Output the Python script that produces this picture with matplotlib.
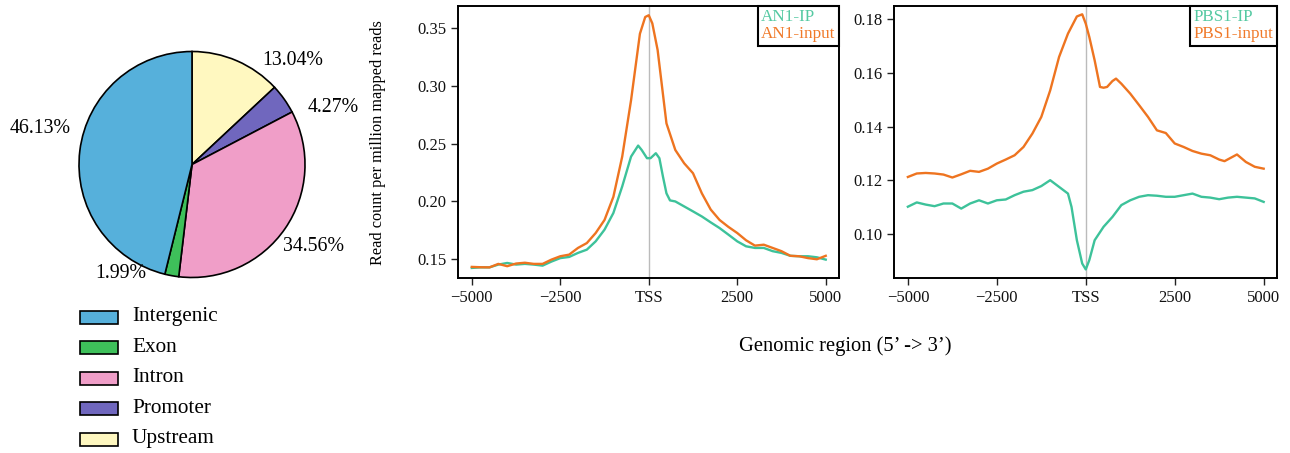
import matplotlib
matplotlib.use("Agg")
import matplotlib.pyplot as plt
from matplotlib.patches import Rectangle
from matplotlib.lines import Line2D
import numpy as np

plt.rcParams['font.family'] = ['Liberation Serif', 'DejaVu Serif']

# ---------------- data ----------------
pie_labels = ["Upstream", "Promoter", "Intron", "Exon", "Intergenic"]
pie_values = [13.04, 4.27, 34.56, 1.99, 46.13]
pie_colors = ["#FFF8C0", "#7067BE", "#F09EC8", "#3EC05A", "#56B0DB"]
legend_order = ["Intergenic", "Exon", "Intron", "Promoter", "Upstream"]

an1_input_x = [-5000, -4750, -4500, -4250, -4000, -3750, -3500, -3250, -3000, -2750,
               -2500, -2250, -2000, -1750, -1500, -1250, -1000, -750, -500, -250,
               -100, 0, 100, 250, 500, 750, 1000, 1250, 1500, 1750, 2000, 2250,
               2500, 2750, 3000, 3250, 3500, 3750, 4000, 4250, 4500, 4750, 5000]
an1_input_y = [0.1434, 0.1431, 0.1430, 0.1460, 0.1440, 0.1463, 0.1470, 0.1460, 0.1460, 0.1497,
               0.1526, 0.1540, 0.1598, 0.1640, 0.1727, 0.1840, 0.2040, 0.2388, 0.2876, 0.3450,
               0.3595, 0.3610, 0.3540, 0.3310, 0.2675, 0.2445, 0.2330, 0.2244, 0.2070, 0.1930,
               0.1840, 0.1780, 0.1727, 0.1664, 0.1618, 0.1626, 0.1598, 0.1570, 0.1530, 0.1526,
               0.1510, 0.1500, 0.1530]

an1_ip_x = [-5000, -4750, -4500, -4250, -4000, -3750, -3500, -3250, -3000, -2750,
            -2500, -2250, -2000, -1750, -1500, -1250, -1000, -750, -500, -300,
            -200, -50, 50, 200, 300, 400, 500, 600, 750, 1000, 1250, 1500, 1750,
            2000, 2250, 2500, 2750, 3000, 3250, 3500, 3750, 4000, 4250, 4500, 4750, 5000]
an1_ip_y = [0.1425, 0.1430, 0.1430, 0.1454, 0.1468, 0.1454, 0.1460, 0.1454, 0.1445, 0.1480,
            0.1510, 0.1520, 0.1555, 0.1583, 0.1655, 0.1756, 0.1900, 0.2130, 0.2388, 0.2483,
            0.2445, 0.2374, 0.2374, 0.2417, 0.2374, 0.2216, 0.2070, 0.2009, 0.2000, 0.1957,
            0.1914, 0.1870, 0.1819, 0.1770, 0.1713, 0.1655, 0.1612, 0.1598, 0.1598, 0.1570,
            0.1555, 0.1530, 0.1526, 0.1526, 0.1517, 0.1497]

pbs1_input_x = [-5000, -4750, -4500, -4250, -4000, -3750, -3500, -3250, -3000, -2750,
                -2500, -2250, -2000, -1750, -1500, -1250, -1000, -750, -500, -250,
                -100, 0, 100, 250, 400, 500, 600, 750, 850, 1000, 1250, 1500, 1750,
                2000, 2250, 2500, 2750, 3000, 3250, 3500, 3750, 3900, 4250, 4500, 4750, 5000]
pbs1_input_y = [0.1212, 0.1225, 0.1227, 0.1225, 0.1221, 0.1210, 0.1222, 0.1235, 0.1231, 0.1243,
                0.1262, 0.1277, 0.1293, 0.1324, 0.1374, 0.1436, 0.1535, 0.1660, 0.1747, 0.1811,
                0.1819, 0.1784, 0.1734, 0.1647, 0.1548, 0.1545, 0.1548, 0.1570, 0.1579, 0.1560,
                0.1523, 0.1480, 0.1436, 0.1386, 0.1376, 0.1337, 0.1324, 0.1309, 0.1299, 0.1293,
                0.1277, 0.1271, 0.1296, 0.1268, 0.1250, 0.1243]

pbs1_ip_x = [-5000, -4750, -4500, -4250, -4000, -3750, -3500, -3250, -3000, -2750,
             -2500, -2250, -2000, -1750, -1500, -1250, -1000, -750, -500, -400,
             -250, -100, 0, 100, 250, 500, 750, 1000, 1250, 1500, 1750, 2000,
             2250, 2500, 2750, 3000, 3250, 3500, 3750, 4000, 4250, 4500, 4750, 5000]
pbs1_ip_y = [0.1101, 0.1117, 0.1109, 0.1103, 0.1113, 0.1113, 0.1094, 0.1113, 0.1125, 0.1113,
             0.1125, 0.1128, 0.1144, 0.1157, 0.1163, 0.1178, 0.1200, 0.1175, 0.1150, 0.1100,
             0.0976, 0.0889, 0.0867, 0.0902, 0.0976, 0.1026, 0.1063, 0.1107, 0.1125, 0.1138,
             0.1144, 0.1142, 0.1138, 0.1138, 0.1144, 0.1150, 0.1138, 0.1135, 0.1129, 0.1135,
             0.1138, 0.1135, 0.1132, 0.1119]

xticks = [-5000, -2500, 0, 2500, 5000]
xtick_labels = ["\u22125000", "\u22122500", "TSS", "2500", "5000"]

ip_color = "#3DC29A"
input_color = "#EE7420"
ip_text_color = "#55C9A2"
input_text_color = "#F07A2A"

W, H = 1290, 453
fig = plt.figure(figsize=(W / 100, H / 100), dpi=100)

# ---------------- pie ----------------
cx, cy, R = 192, 164.5, 113.0
half = 1.5 * R
axp = fig.add_axes([(cx - half) / W, 1 - (cy + half) / H, 2 * half / W, 2 * half / H])
axp.pie(pie_values, colors=pie_colors, startangle=90, counterclock=False,
        wedgeprops=dict(edgecolor="black", linewidth=1.2))
axp.set_xlim(-1.5, 1.5)
axp.set_ylim(-1.5, 1.5)
axp.set_aspect("equal")
axp.axis("off")
label_pos = {"Upstream": (0.894, 0.916), "Promoter": (1.248, 0.50),
             "Intron": (1.071, -0.730), "Exon": (-0.633, -0.969),
             "Intergenic": (-1.348, 0.323)}
for lab, val in zip(pie_labels, pie_values):
    px, py = label_pos[lab]
    axp.text(px, py, f"{val:.2f}%", ha="center", va="center", fontsize=14.3, clip_on=False)

# manual pie legend
for i, lab in enumerate(legend_order):
    yc = 317 + i * 30.5
    col = pie_colors[pie_labels.index(lab)]
    fig.add_artist(Rectangle((80 / W, 1 - (yc + 6.5) / H), 38 / W, 13 / H,
                             transform=fig.transFigure, facecolor=col,
                             edgecolor="black", linewidth=1.2))
    fig.text(132 / W, 1 - yc / H, lab, ha="left", va="center", fontsize=15.3)

# ---------------- profile panels ----------------
def panel(rect, xs_ip, ys_ip, xs_in, ys_in, ylim, yticks, names):
    ax = fig.add_axes(rect)
    ax.axvline(0, color="#BBBBBB", linewidth=1.0, zorder=1)
    ax.plot(xs_ip, ys_ip, color=ip_color, linewidth=1.7, zorder=3)
    ax.plot(xs_in, ys_in, color=input_color, linewidth=1.7, zorder=3)
    ax.set_xlim(-5390, 5375)
    ax.set_ylim(*ylim)
    ax.set_xticks(xticks)
    ax.set_xticklabels(xtick_labels)
    ax.set_yticks(yticks)
    ax.set_yticklabels([f"{t:.2f}" for t in yticks])
    ax.tick_params(labelsize=12, length=5, width=1, direction="out", colors="#222222")
    ax.tick_params(labelcolor="#111111")
    for s in ax.spines.values():
        s.set_linewidth(1.4)
    handles = [Line2D([], [], linestyle="none"), Line2D([], [], linestyle="none")]
    leg = ax.legend(handles, names, loc="upper right", borderaxespad=0, handlelength=0,
                    handletextpad=0, fancybox=False, fontsize=12.3, borderpad=0.2,
                    labelspacing=0.05, framealpha=1)
    leg.get_frame().set_edgecolor("black")
    leg.get_frame().set_linewidth(1.5)
    for t, c in zip(leg.get_texts(), [ip_text_color, input_text_color]):
        t.set_color(c)
    return ax

top, bot = 6, 278
panel([458 / W, 1 - bot / H, (839 - 458) / W, (bot - top) / H],
      an1_ip_x, an1_ip_y, an1_input_x, an1_input_y,
      (0.1338, 0.3690), [0.15, 0.20, 0.25, 0.30, 0.35], ["AN1-IP", "AN1-input"])
panel([894 / W, 1 - bot / H, (1277 - 894) / W, (bot - top) / H],
      pbs1_ip_x, pbs1_ip_y, pbs1_input_x, pbs1_input_y,
      (0.0835, 0.1850), [0.10, 0.12, 0.14, 0.16, 0.18], ["PBS1-IP", "PBS1-input"])

fig.text(378 / W, 1 - 142.5 / H, "Read count per million mapped reads",
         rotation=90, ha="center", va="center", fontsize=11.7)
fig.text(845 / W, 1 - 346 / H, "Genomic region (5\u2019 -> 3\u2019)",
         ha="center", va="center", fontsize=14.8)

fig.savefig("out.png", dpi=100)
